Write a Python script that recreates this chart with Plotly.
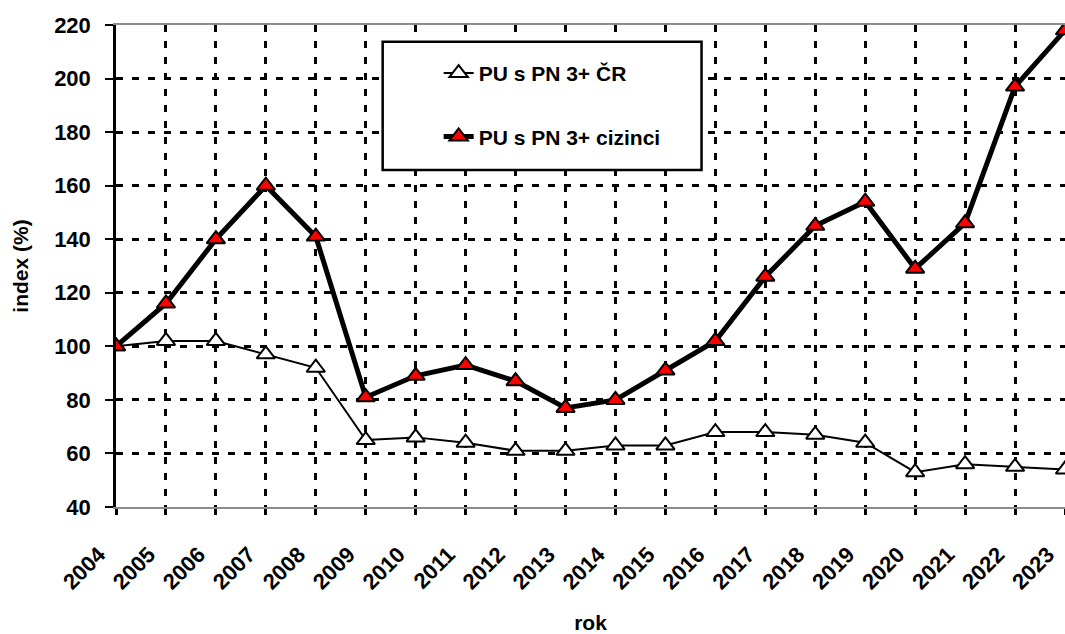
import plotly.graph_objects as go

# data
years = list(range(2004, 2024))
pu_cr = [100, 102, 102, 97, 92, 65, 66, 64, 61, 61, 63, 63, 68, 68, 67, 64, 53, 56, 55, 54]
pu_cizinci = [100, 116, 140, 160, 141, 81, 89, 93, 87, 77, 80, 91, 102, 126, 145, 154, 129, 146, 197, 218]
y_ticks = list(range(40, 221, 20))

FONT = "Arial, Liberation Sans, sans-serif"

fig = go.Figure()

fig.add_trace(go.Scatter(
    x=years, y=pu_cr,
    name="PU s PN 3+ ČR",
    legendgroup="a",
    mode="lines+markers",
    line=dict(color="black", width=2),
    marker=dict(symbol="triangle-up", size=16, color="white",
                line=dict(color="black", width=2)),
))

fig.add_trace(go.Scatter(
    x=years, y=pu_cizinci,
    name="PU s PN 3+ cizinci",
    legendgroup="b",
    mode="lines+markers",
    line=dict(color="black", width=5),
    marker=dict(symbol="triangle-up", size=16, color="#ff0000",
                line=dict(color="black", width=2)),
))

# legend frame
fig.add_shape(type="rect", xref="paper", yref="paper",
              x0=0.281, x1=0.617, y0=0.699, y1=0.965,
              line=dict(color="black", width=2.5), fillcolor="white", layer="above")

fig.update_layout(
    width=1065, height=634,
    margin=dict(l=116, r=0, t=25, b=127),
    paper_bgcolor="white", plot_bgcolor="white",
    font=dict(family=FONT, color="black", size=21, weight="bold"),
    showlegend=True,
    legend=dict(
        x=0.340, y=0.942, xanchor="left", yanchor="top",
        bgcolor="rgba(0,0,0,0)", borderwidth=0,
        tracegroupgap=33,
        font=dict(family=FONT, size=21, weight="bold"),
    ),
    xaxis=dict(
        range=[2004, 2023],
        automargin=False,
        tickmode="array", tickvals=years, ticktext=[str(y) for y in years],
        tickangle=-45,
        tickfont=dict(family=FONT, size=22, weight="bold"),
        ticklabelstandoff=18, ticklabelshift=-17,
        ticks="outside", ticklen=6, tickwidth=3, tickcolor="black",
        showline=True, linecolor="#8c8c8c", linewidth=2, mirror=True,
        showgrid=True, gridcolor="black", gridwidth=2.5, griddash="7px,9px",
        zeroline=False,
        title=dict(text="rok", font=dict(family=FONT, size=21, weight="bold"), standoff=22),
    ),
    yaxis=dict(
        range=[40, 220],
        automargin=False,
        tickmode="array", tickvals=y_ticks,
        tickfont=dict(family=FONT, size=22, weight="bold"),
        ticklabelstandoff=10,
        ticks="outside", ticklen=8, tickwidth=2, tickcolor="black",
        showline=True, linecolor="black", linewidth=2.5,
        showgrid=True, gridcolor="black", gridwidth=2.5, griddash="7px,9px",
        zeroline=False,
        title=dict(text="index (%)", font=dict(family=FONT, size=21, weight="bold"), standoff=20),
    ),
)

# drop the default page margin so the figure sits at the window's corner
fig.write_html("out.html", config={"displayModeBar": False},
               post_script="document.body.style.margin = '0';")
